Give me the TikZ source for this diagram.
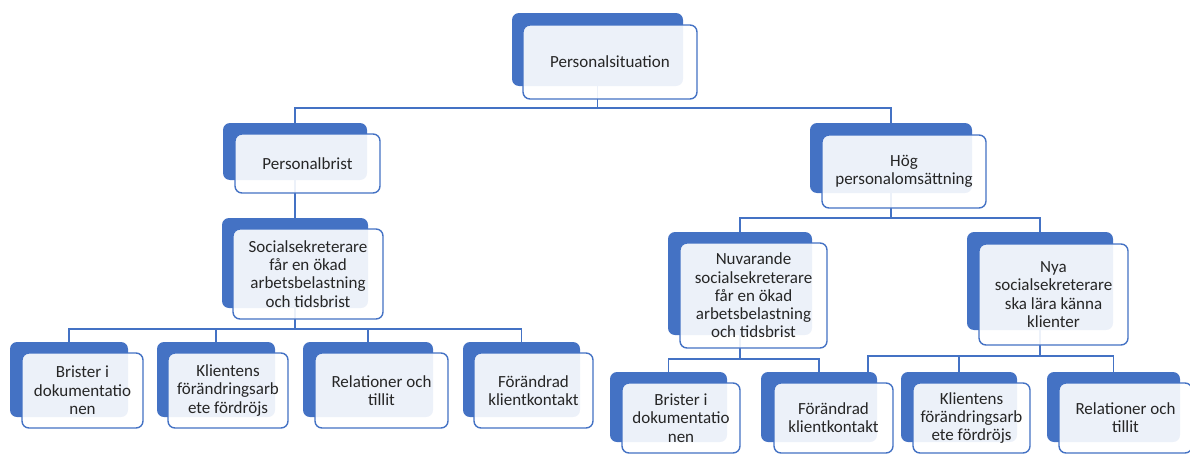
\documentclass[tikz,border=0pt]{standalone}
\usepackage{fontspec}
\setmainfont{Carlito}
\usepackage{tikz}
\definecolor{accent}{HTML}{4472C4}
\definecolor{ink}{HTML}{262626}
\tikzset{
  backbox/.style={fill=accent, rounded corners=7pt, inner sep=0pt},
  frontbox/.style={draw=accent, line width=1.4pt, fill=white, fill opacity=0.9, text opacity=1,
    rounded corners=7pt, inner sep=0pt, align=center, text=ink,
    font=\fontsize{17}{18.3}\selectfont},
  link/.style={draw=accent, line width=1.5pt},
}

\begin{document}
\begin{tikzpicture}[x=1pt, y=-1pt]
  \useasboundingbox (0,0) rectangle (1190,455);
  \node[backbox, minimum width=171pt, minimum height=73pt] (ps) at (597.5,49.5) {};
  \node[backbox, minimum width=144pt, minimum height=57pt] (pb) at (295,151.5) {};
  \node[backbox, minimum width=146pt, minimum height=90pt] (sa) at (295,263) {};
  \node[backbox, minimum width=162pt, minimum height=70pt] (hp) at (891,158) {};
  \node[backbox, minimum width=144pt, minimum height=103pt] (nv) at (740,283.5) {};
  \node[backbox, minimum width=146pt, minimum height=98pt] (ny) at (1040,281) {};
  \node[backbox, minimum width=118pt, minimum height=75pt] (bl) at (69,379.5) {};
  \node[backbox, minimum width=118pt, minimum height=75pt] (kl) at (216,379.5) {};
  \node[backbox, minimum width=130pt, minimum height=75pt] (rl) at (368,379.5) {};
  \node[backbox, minimum width=117pt, minimum height=75pt] (fl) at (521.5,379.5) {};
  \node[backbox, minimum width=117pt, minimum height=70pt] (br) at (668.5,407) {};
  \node[backbox, minimum width=116pt, minimum height=70pt] (fr) at (819,407) {};
  \node[backbox, minimum width=116pt, minimum height=70pt] (kr) at (959,407) {};
  \node[backbox, minimum width=133pt, minimum height=70pt] (rr) at (1113.5,407) {};
  \coordinate (nyx) at (868,372);

  \draw[link] (ps.south) -- ++(0,22) -| (pb.north);
  \draw[link] (ps.south) -- ++(0,22) -| (hp.north);
  \draw[link] (pb.south) -- (sa.north);
  \draw[link] (sa.south) -- ++(0,21) -| (bl.north);
  \draw[link] (sa.south) -- ++(0,21) -| (kl.north);
  \draw[link] (sa.south) -- ++(0,21) -| (rl.north);
  \draw[link] (sa.south) -- ++(0,21) -| (fl.north);
  \draw[link] (hp.south) -- ++(0,25) -| (nv.north);
  \draw[link] (hp.south) -- ++(0,25) -| (ny.north);
  \draw[link] (nv.south) -- ++(0,24) -| (br.north);
  \draw[link] (nv.south) -- ++(0,24) -| (fr.north);
  \draw[link] (ny.south) -- ++(0,26) -| (nyx);
  \draw[link] (ny.south) -- ++(0,26) -| (kr.north);
  \draw[link] (ny.south) -- ++(0,26) -| (rr.north);

  \node[frontbox, minimum width=174pt, minimum height=74pt] (psT) at (610,62) {Personalsituation};
  \node[frontbox, minimum width=145pt, minimum height=59pt] (pbT) at (307.5,163.5) {Personalbrist};
  \node[frontbox, minimum width=150pt, minimum height=90pt] (saT) at (308,274) {Socialsekreterare\\får en ökad\\arbetsbelastning\\och tidsbrist};
  \node[frontbox, minimum width=164pt, minimum height=73pt] (hpT) at (904,171.5) {Hög\\personalomsättning};
  \node[frontbox, minimum width=147pt, minimum height=105pt] (nvT) at (753.5,295.5) {Nuvarande\\socialsekreterare\\får en ökad\\arbetsbelastning\\och tidsbrist};
  \node[frontbox, minimum width=149pt, minimum height=101pt] (nyT) at (1053.5,294.5) {Nya\\socialsekreterare\\ska lära känna\\klienter};
  \node[frontbox, minimum width=121pt, minimum height=75pt] (blT) at (82.5,390.5) {Brister i\\dokumentatio\\nen};
  \node[frontbox, minimum width=120pt, minimum height=75pt] (klT) at (228,390.5) {Klientens\\förändringsarb\\ete fördröjs};
  \node[frontbox, minimum width=133pt, minimum height=75pt] (rlT) at (381.5,390.5) {Relationer och\\tillit};
  \node[frontbox, minimum width=119pt, minimum height=75pt] (flT) at (533.5,390.5) {Förändrad\\klientkontakt};
  \node[frontbox, minimum width=118pt, minimum height=70pt] (brT) at (681,418) {Brister i\\dokumentatio\\nen};
  \node[frontbox, minimum width=119pt, minimum height=70pt] (frT) at (833.5,418) {Förändrad\\klientkontakt};
  \node[frontbox, minimum width=117pt, minimum height=70pt] (krT) at (971.5,418) {Klientens\\förändringsarb\\ete fördröjs};
  \node[frontbox, minimum width=133pt, minimum height=70pt] (rrT) at (1125.5,418) {Relationer och\\tillit};
\end{tikzpicture}
\end{document}
